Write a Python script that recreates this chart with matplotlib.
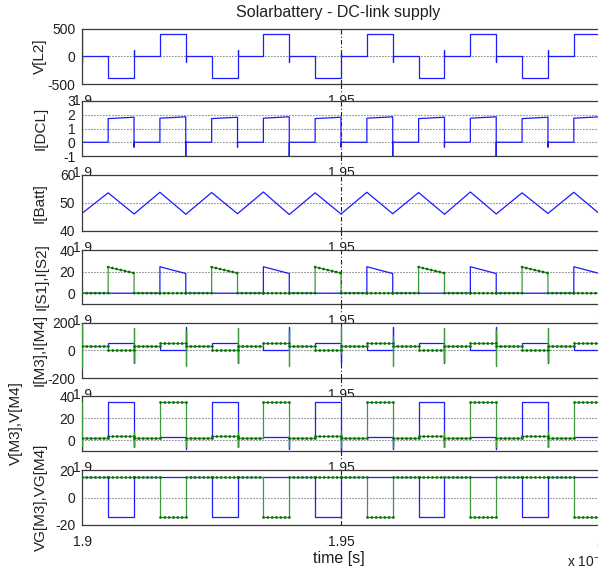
import numpy as np
import matplotlib
matplotlib.use("Agg")
import matplotlib.pyplot as plt
from matplotlib.lines import Line2D
from matplotlib.ticker import FuncFormatter

plt.rcParams['font.family'] = ['Liberation Sans', 'DejaVu Sans']
plt.rcParams['font.size'] = 10
plt.rcParams['axes.unicode_minus'] = False
plt.rcParams['mathtext.fontset'] = 'custom'
plt.rcParams['mathtext.rm'] = 'Liberation Sans'

# switching instants in ms (one 5 us interval per entry)
t_edges_ms = [1.900, 1.905, 1.910, 1.915, 1.920, 1.925, 1.930, 1.935, 1.940, 1.945,
              1.950, 1.955, 1.960, 1.965, 1.970, 1.975, 1.980, 1.985, 1.990, 1.995, 2.000]

# V[L2] : level at start / end of each interval, spikes at switching instants
vl2_start = [0, -400, 10, 400, 0, -400, 10, 400, 0, -400, 10, 400, 0, -400, 10, 400, 0, -400, 10, 400]
vl2_end = vl2_start
vl2_spikes = {0: (430, -110), 2: (120,), 4: (-100,), 6: (120,), 8: (-100,), 10: (60,),
              12: (-100,), 14: (120,), 16: (-100,), 18: (110,)}

# I[DCL]
idcl_start = [0, 1.72, 0, 1.75, 0, 1.72, 0, 1.75, 0, 1.72, 0, 1.75, 0, 1.72, 0, 1.75, 0, 1.72, 0, 1.75]
idcl_end = [0, 1.82, 0, 1.85, 0, 1.82, 0, 1.85, 0, 1.82, 0, 1.85, 0, 1.82, 0, 1.85, 0, 1.82, 0, 1.85]
idcl_spikes = {0: (-1.1,), 2: (-0.35,), 4: (-1.1,), 6: (-0.35,), 8: (-1.1,), 10: (-0.35,),
               12: (-1.1,), 14: (-0.35,), 16: (-1.1,), 18: (-0.35,)}

# I[Batt] : value at each switching instant
ibatt = [46.3, 53.6, 46.0, 53.8, 45.9, 53.7, 46.1, 53.9, 45.8, 53.6, 46.0,
         53.8, 46.1, 53.7, 45.9, 53.9, 46.0, 53.6, 46.2, 53.8, 46.0]

# I[S1] (blue), I[S2] (green)
is1_start = [0, 0, 0, 24.5, 0, 0, 0, 24.5, 0, 0, 0, 24.5, 0, 0, 0, 24.5, 0, 0, 0, 24.5]
is1_end = [0, 0, 0, 18.2, 0, 0, 0, 18.2, 0, 0, 0, 18.2, 0, 0, 0, 18.2, 0, 0, 0, 18.2]
is1_spikes = {0: (18.5,)}
is2_start = [0, 24.2, 0, 0, 0, 24.2, 0, 0, 0, 24.2, 0, 0, 0, 24.2, 0, 0, 0, 24.2, 0, 0]
is2_end = [0, 18.6, 0, 0, 0, 18.6, 0, 0, 0, 18.6, 0, 0, 0, 18.6, 0, 0, 0, 18.6, 0, 0]

# I[M3] (blue), I[M4] (green)
im3_start = [35, 55, 35, 2, 35, 55, 35, 2, 35, 55, 35, 2, 35, 55, 35, 2, 35, 55, 35, 2]
im3_end = im3_start
im3_spikes = {0: (200,), 2: (-88,), 4: (170,), 6: (-88,), 8: (170,), 10: (-90,),
              12: (170,), 14: (-88,), 16: (170,), 18: (-88,)}
im4_start = [35, 3, 35, 55, 35, 3, 35, 55, 35, 3, 35, 55, 35, 3, 35, 55, 35, 3, 35, 55]
im4_end = im4_start
im4_spikes = {0: (190, -130), 2: (160, -85), 4: (150, -115), 6: (160, -85), 8: (150, -115),
              10: (170, -22), 12: (100, -115), 14: (160, -85), 16: (150, -115), 18: (160, -85)}

# V[M3] (blue), V[M4] (green)
vm3_start = [1.5, 35, 1.5, 3, 1.5, 35, 1.5, 3, 1.5, 35, 1.5, 3, 1.5, 35, 1.5, 3, 1.5, 35, 1.5, 3]
vm3_end = vm3_start
vm3_spikes = {0: (-8,), 2: (-6,), 4: (-8,), 6: (-6,), 8: (-8,), 10: (-10,),
              12: (-8,), 14: (-6,), 16: (-8,), 18: (-6,)}
vm4_start = [1.5, 3.7, 1.5, 35, 1.5, 3.7, 1.5, 35, 1.5, 3.7, 1.5, 35, 1.5, 3.7, 1.5, 35, 1.5, 3.7, 1.5, 35]
vm4_end = vm4_start
vm4_spikes = {0: (35, -5), 2: (8, -6), 4: (-6,), 6: (8, -6), 8: (-6,), 10: (8, -6),
              12: (-6,), 14: (8, -6), 16: (-6,), 18: (8, -6)}

# VG[M3] (blue), VG[M4] (green)
vg3_start = [14.8, -14, 14.8, 14.8, 14.8, -14, 14.8, 14.8, 14.8, -14, 14.8, 14.8,
             14.8, -14, 14.8, 14.8, 14.8, -14, 14.8, 14.8]
vg3_end = vg3_start
vg4_start = [15.2, 15.2, 15.2, -14.2, 15.2, 15.2, 15.2, -14.2, 15.2, 15.2, 15.2, -14.2,
             15.2, 15.2, 15.2, -14.2, 15.2, 15.2, 15.2, -14.2]
vg4_end = vg4_start

ylabels = ['V[L2]', 'I[DCL]', 'I[Batt]', 'I[S1],I[S2]', 'I[M3],I[M4]', 'V[M3],V[M4]', 'VG[M3],VG[M4]']
ylims = [(-500, 500), (-1, 3), (40, 60), (-10, 40), (-200, 200), (-10, 40), (-20, 20)]
yticks = [[-500, 0, 500], [-1, 0, 1, 2, 3], [40, 50, 60], [0, 20, 40],
          [-200, 0, 200], [0, 20, 40], [-20, 0, 20]]

t_edges = np.array(t_edges_ms) * 1e-3

BLUE = '#1a1aff'
GREEN = '#3a9a3a'
DOTGREEN = '#0a6e0a'
TXT = '#202020'


def build_path(starts, ends, spikes=None):
    spikes = spikes or {}
    t, y = [], []
    for i in range(len(starts)):
        for s in spikes.get(i, ()):
            t.append(t_edges[i])
            y.append(s)
        t += [t_edges[i], t_edges[i + 1]]
        y += [starts[i], ends[i]]
    return np.array(t), np.array(y)


def flat_parts(starts, ends):
    t, y = [], []
    for i in range(len(starts)):
        t += [t_edges[i], t_edges[i + 1], np.nan]
        y += [starts[i], ends[i], np.nan]
    return np.array(t), np.array(y)


W, H = 598, 572
fig = plt.figure(figsize=(W / 100, H / 100), dpi=100, facecolor='white')

left_px, right_px = 82.3, 599.7
panels_px = [(28.5, 84), (101, 156), (175, 230.7), (250, 304), (322.7, 378), (396, 451), (470, 525)]
label_x_px = [40, 41, 40, 42, 40, 16, 41]

axes = []
for k, (top, bot) in enumerate(panels_px):
    ax = fig.add_axes([left_px / W, 1 - bot / H, (right_px - left_px) / W, (bot - top) / H])
    ax.set_facecolor('white')
    ax.set_xlim(1.9e-3, 2.0e-3)
    ax.set_ylim(*ylims[k])
    ax.set_xticks([1.9e-3, 1.95e-3, 2.0e-3])
    ax.set_yticks(yticks[k])
    ax.xaxis.set_major_formatter(FuncFormatter(lambda v, p: f"{v * 1e3:g}"))
    ax.tick_params(length=0, labelsize=10, labelcolor=TXT)
    ax.tick_params(axis='x', pad=7.5)
    ax.tick_params(axis='y', pad=5)
    for sp in ax.spines.values():
        sp.set_color('#3a3a3a')
        sp.set_linewidth(0.9)
    for yv in yticks[k]:
        ax.axhline(yv, color='#303030', lw=0.8, ls=(0, (0.8, 1.9)), zorder=0.5)
    ax.axvline(1.95e-3, color=TXT, lw=0.8, ls=(0, (4, 2, 1, 2)), zorder=0.5)
    ax.set_ylabel(ylabels[k], fontsize=11, color=TXT, va='center')
    ax.yaxis.set_label_coords((label_x_px[k] - left_px) / (right_px - left_px), 0.5)
    axes.append(ax)


def draw_green(ax, starts, ends, spikes=None):
    t, y = build_path(starts, ends, spikes)
    ax.plot(t, y, color=GREEN, lw=0.9, zorder=3)
    tf, yf = flat_parts(starts, ends)
    ax.plot(tf, yf, color=DOTGREEN, lw=2.0, ls=(0, (0.05, 1.5)),
            dash_capstyle='round', zorder=4)


# V[L2]
t, y = build_path(vl2_start, vl2_end, vl2_spikes)
axes[0].plot(t, y, color=BLUE, lw=0.9, zorder=2)

# I[DCL]
t, y = build_path(idcl_start, idcl_end, idcl_spikes)
axes[1].plot(t, y, color=BLUE, lw=0.9, zorder=2)

# I[Batt]
axes[2].plot(t_edges, ibatt, color=BLUE, lw=0.9, zorder=2)

# I[S1], I[S2]
t, y = build_path(is1_start, is1_end, is1_spikes)
axes[3].plot(t, y, color=BLUE, lw=0.9, zorder=2)
draw_green(axes[3], is2_start, is2_end)

# I[M3], I[M4]
t, y = build_path(im3_start, im3_end, im3_spikes)
axes[4].plot(t, y, color=BLUE, lw=0.9, zorder=2)
draw_green(axes[4], im4_start, im4_end, im4_spikes)

# V[M3], V[M4]
t, y = build_path(vm3_start, vm3_end, vm3_spikes)
axes[5].plot(t, y, color=BLUE, lw=0.9, zorder=2)
draw_green(axes[5], vm4_start, vm4_end, vm4_spikes)

# VG[M3], VG[M4]
t, y = build_path(vg3_start, vg3_end)
axes[6].plot(t, y, color=BLUE, lw=0.9, zorder=2)
draw_green(axes[6], vg4_start, vg4_end)

# cursor line at 1.95 continues a little into the gaps between panels
x_cur = (left_px + (right_px - left_px) * 0.5) / W
for top, bot in panels_px[:-1]:
    fig.add_artist(Line2D([x_cur, x_cur], [1 - bot / H, 1 - (bot + 9) / H],
                          color=TXT, lw=0.8, ls=(0, (4, 2, 1, 2)), zorder=10))

fig.text(338.5 / W, 1 - 12 / H, 'Solarbattery - DC-link supply', ha='center', va='center',
         fontsize=11.5, color=TXT)
fig.text(339 / W, 1 - 559 / H, 'time [s]', ha='center', va='center', fontsize=11.5, color=TXT)
fig.text(567 / W, 1 - 561 / H, r'x 10$^{-3}$', ha='left', va='center', fontsize=10, color=TXT)

fig.savefig('out.png', dpi=100, facecolor='white')
